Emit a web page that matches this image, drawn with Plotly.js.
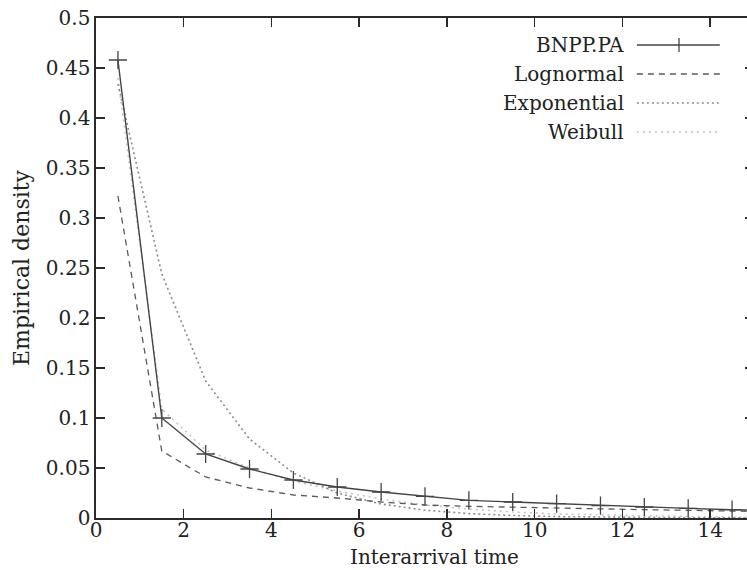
<!DOCTYPE html>
<html>
<head>
<meta charset="utf-8">
<script src="https://cdn.plot.ly/plotly-3.0.1.min.js"></script>
<style>
  html, body { margin: 0; padding: 0; overflow: hidden; background: #fff; }
  #chart { width: 754px; height: 570px; }
</style>
</head>
<body>
<div id="chart"></div>
<script>
// ---- data ----
const binCenters = [0.5, 1.5, 2.5, 3.5, 4.5, 5.5, 6.5, 7.5, 8.5, 9.5, 10.5, 11.5, 12.5, 13.5, 14.5, 15.5];
const bnpp        = [0.458, 0.100, 0.064, 0.049, 0.038, 0.031, 0.026, 0.0216, 0.0176, 0.016, 0.0143, 0.0123, 0.011, 0.0096, 0.0083, 0.0074];
const lognormal   = [0.322, 0.067, 0.041, 0.030, 0.023, 0.020, 0.016, 0.013, 0.0117, 0.0107, 0.010, 0.009, 0.0083, 0.0077, 0.0068, 0.0062];
const exponential = [0.434, 0.244, 0.137, 0.079, 0.045, 0.025, 0.014, 0.0078, 0.0044, 0.0025, 0.0014, 0.0008, 0.0005, 0.0003, 0.0002, 0.0001];
const weibull     = [0.440, 0.109, 0.068, 0.050, 0.037, 0.027, 0.019, 0.013, 0.009, 0.006, 0.004, 0.003, 0.002, 0.0015, 0.001, 0.0008];

const seriesNames = ["BNPP.PA", "Lognormal", "Exponential", "Weibull"];
const xTickVals = [0, 2, 4, 6, 8, 10, 12, 14];
const xTickText = ["0", "2", "4", "6", "8", "10", "12", "14"];
const yTickVals = [0, 0.05, 0.1, 0.15, 0.2, 0.25, 0.3, 0.35, 0.4, 0.45, 0.5];
const yTickText = ["0", "0.05", "0.1", "0.15", "0.2", "0.25", "0.3", "0.35", "0.4", "0.45", "0.5"];
const xTitle = "Interarrival time";
const yTitle = "Empirical density";

// ---- styles ----
const FONT = "DejaVu Serif";
const styles = [
  {color: "#444444", width: 1.4, dash: "solid"},
  {color: "#5a5a5a", width: 1.3, dash: "6px,5px"},
  {color: "#8c8c8c", width: 1.6, dash: "2px,3px"},
  {color: "#c4c4c4", width: 1.6, dash: "2px,4px"}
];
const seriesValues = [bnpp, lognormal, exponential, weibull];

const traces = seriesValues.map((vals, i) => {
  const t = {
    x: binCenters, y: vals, name: seriesNames[i], type: "scatter",
    mode: i === 0 ? "lines+markers" : "lines",
    line: {color: styles[i].color, width: styles[i].width, dash: styles[i].dash},
    showlegend: false, cliponaxis: true
  };
  if (i === 0) {
    t.marker = {symbol: "cross-thin-open", size: 13, color: styles[0].color,
                line: {color: styles[0].color, width: 1.3}};
  }
  return t;
});
traces.reverse();

// ---- custom legend (text on the left, sample on the right) ----
const legRows = [0.946, 0.888, 0.830, 0.772];
const annotations = [];
const shapes = [];
seriesNames.forEach((name, i) => {
  annotations.push({
    xref: "paper", yref: "paper", x: 0.806, y: legRows[i],
    xanchor: "right", yanchor: "middle", text: name, showarrow: false,
    font: {family: FONT, size: 20, color: "#222"}
  });
  shapes.push({
    type: "line", xref: "paper", yref: "paper",
    x0: 0.822, x1: 0.948, y0: legRows[i], y1: legRows[i],
    line: {color: styles[i].color, width: styles[i].width, dash: styles[i].dash}
  });
});
shapes.push({
  type: "line", xref: "paper", yref: "paper",
  x0: 0.886, x1: 0.886, y0: legRows[0] - 0.014, y1: legRows[0] + 0.014,
  line: {color: styles[0].color, width: 1.3}
});
// x-axis title placed as text below the tick labels
annotations.push({
  xref: "paper", yref: "paper", x: 0.514, y: -0.078, xanchor: "center", yanchor: "middle",
  borderpad: 0, text: xTitle, showarrow: false, font: {family: FONT, size: 20, color: "#222"}
});

const axisCommon = {
  showgrid: false, zeroline: false,
  showline: true, linecolor: "#2b2b2b", linewidth: 1.6,
  mirror: "ticks", ticks: "inside", ticklen: 9, tickwidth: 1.5, tickcolor: "#2b2b2b",
  tickfont: {family: FONT, size: 20, color: "#222"},
  tickmode: "array"
};

const layout = {
  width: 754, height: 570,
  font: {family: FONT},
  margin: {l: 96, r: 0, t: 18, b: 52},
  paper_bgcolor: "#fff", plot_bgcolor: "#fff",
  showlegend: false,
  xaxis: Object.assign({}, axisCommon, {
    range: [0, 15], tickvals: xTickVals, ticktext: xTickText, ticklabelstandoff: -7
  }),
  yaxis: Object.assign({}, axisCommon, {
    range: [0, 0.5], tickvals: yTickVals, ticktext: yTickText,
    title: {text: yTitle, font: {family: FONT, size: 22, color: "#222"}, standoff: 10}
  }),
  annotations: annotations,
  shapes: shapes
};

Plotly.newPlot("chart", traces, layout, {staticPlot: true, displayModeBar: false});
</script>
</body>
</html>
